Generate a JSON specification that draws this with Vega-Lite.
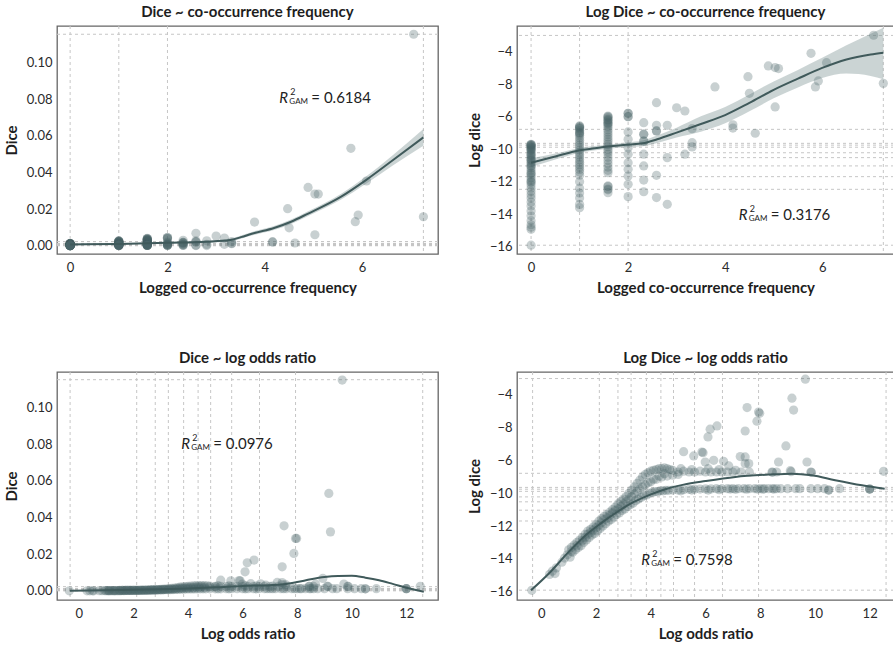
{
"$schema": "https://vega.github.io/schema/vega-lite/v6.json",
"padding": {"left": 3, "top": 3, "right": 0, "bottom": 0},
"columns": 2,
"spacing": {"row": 118, "column": 79},
"bounds": "flush",
"config": {
  "font": "Lato",
  "view": {"stroke": "#666666", "strokeWidth": 1.3},
  "axis": {"domain": false, "ticks": false, "grid": false, "labelFontSize": 13, "labelColor": "#2b2b2b", "titleFontSize": 15, "titleFontWeight": "bold", "titleColor": "#1e1e1e"},
  "axisX": {"labelPadding": 7, "titlePadding": 6},
  "axisY": {"labelPadding": 5, "titlePadding": 7},
  "title": {"fontSize": 15, "fontWeight": "bold", "color": "#1e1e1e", "offset": 6},
  "text": {"font": "Lato"}
},
"datasets": {
  "vgF": [{"v":0},{"v":1},{"v":2},{"v":7.26}],
  "vgL": [{"v":-0.32},{"v":2.12},{"v":2.8},{"v":3.28},{"v":3.84},{"v":4.37},{"v":4.83},{"v":5.6},{"v":6.62},{"v":7.94},{"v":12.6}],
  "hg": [{"d":0.1153,"ld":-3.0},{"d":0.0023,"ld":-8.78},{"d":0.0013,"ld":-9.64},{"d":0.0012,"ld":-9.75},{"d":0.0011,"ld":-9.88},{"d":0.0008,"ld":-10.22},{"d":0.0007,"ld":-10.52},{"d":0.0005,"ld":-11.03},{"d":0.0003,"ld":-11.69},{"d":0.0002,"ld":-12.47},{"d":0.0,"ld":-15.91}],
  "fit1": [{"x":0,"y":0.0007,"lo":0.0003,"hi":0.0011},{"x":1,"y":0.001,"lo":0.0007,"hi":0.0013},{"x":2,"y":0.0016,"lo":0.0012,"hi":0.002},{"x":2.8,"y":0.0022,"lo":0.0016,"hi":0.0028},{"x":3.29,"y":0.0031,"lo":0.0024,"hi":0.0038},{"x":3.51,"y":0.0047,"lo":0.0038,"hi":0.0056},{"x":3.77,"y":0.0068,"lo":0.0058,"hi":0.0078},{"x":4.19,"y":0.0097,"lo":0.0086,"hi":0.0108},{"x":4.54,"y":0.0131,"lo":0.0119,"hi":0.0143},{"x":4.88,"y":0.0174,"lo":0.0161,"hi":0.0187},{"x":5.57,"y":0.0268,"lo":0.0252,"hi":0.0284},{"x":6.08,"y":0.0358,"lo":0.0338,"hi":0.0378},{"x":6.63,"y":0.0466,"lo":0.0438,"hi":0.0494},{"x":7.26,"y":0.0591,"lo":0.0545,"hi":0.0637}],
  "fit2": [{"x":0,"y":-10.83,"lo":-11.1,"hi":-10.56},{"x":0.5,"y":-10.45,"lo":-10.64,"hi":-10.26},{"x":1,"y":-10.07,"lo":-10.22,"hi":-9.92},{"x":1.5,"y":-9.87,"lo":-10.0,"hi":-9.74},{"x":2,"y":-9.72,"lo":-9.87,"hi":-9.57},{"x":2.3,"y":-9.64,"lo":-9.82,"hi":-9.46},{"x":2.6,"y":-9.39,"lo":-9.62,"hi":-9.16},{"x":3,"y":-8.98,"lo":-9.28,"hi":-8.68},{"x":3.5,"y":-8.45,"lo":-8.92,"hi":-7.98},{"x":4,"y":-7.9,"lo":-8.4,"hi":-7.4},{"x":4.5,"y":-7.15,"lo":-7.67,"hi":-6.63},{"x":5,"y":-6.35,"lo":-6.87,"hi":-5.83},{"x":5.5,"y":-5.66,"lo":-6.2,"hi":-5.12},{"x":6,"y":-5.0,"lo":-5.62,"hi":-4.38},{"x":6.5,"y":-4.48,"lo":-5.35,"hi":-3.6},{"x":7,"y":-4.17,"lo":-5.5,"hi":-2.9},{"x":7.26,"y":-4.06,"lo":-5.7,"hi":-2.52}],
  "fit3": [{"x":-0.33,"y":0},{"x":1,"y":0.0003},{"x":2,"y":0.0006},{"x":3,"y":0.0009},{"x":4,"y":0.0013},{"x":5,"y":0.0019},{"x":6,"y":0.0027},{"x":7,"y":0.0031},{"x":7.5,"y":0.0036},{"x":8,"y":0.0048},{"x":8.5,"y":0.0063},{"x":9,"y":0.0075},{"x":9.5,"y":0.0081},{"x":10,"y":0.0082},{"x":10.5,"y":0.0072},{"x":11,"y":0.0058},{"x":11.5,"y":0.0038},{"x":12,"y":0.0017},{"x":12.64,"y":-0.0005}],
  "fit4": [{"x":-0.38,"y":-15.92},{"x":0.33,"y":-14.8},{"x":0.94,"y":-13.68},{"x":1.55,"y":-12.66},{"x":2.16,"y":-11.85},{"x":2.77,"y":-11.14},{"x":3.38,"y":-10.53},{"x":3.98,"y":-10.08},{"x":4.59,"y":-9.72},{"x":5.2,"y":-9.47},{"x":6.0,"y":-9.25},{"x":7.09,"y":-9.0},{"x":8.31,"y":-8.86},{"x":9.16,"y":-8.8},{"x":9.89,"y":-8.9},{"x":10.74,"y":-9.2},{"x":11.72,"y":-9.51},{"x":12.55,"y":-9.72}],
  "ann1": [{"x":4.3,"y":0.0805,"t":"= 0.6184"}],
  "ann2": [{"x":4.28,"y":-14.05,"t":"= 0.3176"}],
  "ann3": [{"x":3.75,"y":0.0802,"t":"= 0.0976"}],
  "ann4": [{"x":3.65,"y":-14.07,"t":"= 0.7598"}],
  "A": [
    {"f":0,"ld":-9.7,"d":0.0012},{"f":0,"ld":-9.72,"d":0.0012},{"f":0,"ld":-9.75,"d":0.0012},{"f":0,"ld":-9.78,"d":0.0011},{"f":0,"ld":-9.8,"d":0.0011},{"f":0,"ld":-9.85,"d":0.0011},{"f":0,"ld":-9.9,"d":0.001},{"f":0,"ld":-9.95,"d":0.001},{"f":0,"ld":-10.0,"d":0.001},{"f":0,"ld":-10.05,"d":0.0009},{"f":0,"ld":-10.1,"d":0.0009},{"f":0,"ld":-10.2,"d":0.0008},{"f":0,"ld":-10.3,"d":0.0008},{"f":0,"ld":-10.35,"d":0.0008},{"f":0,"ld":-10.4,"d":0.0007},{"f":0,"ld":-10.5,"d":0.0007},{"f":0,"ld":-10.6,"d":0.0006},{"f":0,"ld":-10.65,"d":0.0006},{"f":0,"ld":-10.7,"d":0.0006},{"f":0,"ld":-10.8,"d":0.0006},{"f":0,"ld":-10.9,"d":0.0005},{"f":0,"ld":-11.0,"d":0.0005},{"f":0,"ld":-11.05,"d":0.0005},{"f":0,"ld":-11.15,"d":0.0004},{"f":0,"ld":-11.3,"d":0.0004},{"f":0,"ld":-11.45,"d":0.0004},{"f":0,"ld":-11.5,"d":0.0003},{"f":0,"ld":-11.6,"d":0.0003},{"f":0,"ld":-11.75,"d":0.0003},{"f":0,"ld":-11.9,"d":0.0003},{"f":0,"ld":-12.0,"d":0.0002},{"f":0,"ld":-12.05,"d":0.0002},{"f":0,"ld":-12.2,"d":0.0002},{"f":0,"ld":-12.4,"d":0.0002},{"f":0,"ld":-12.6,"d":0.0002},{"f":0,"ld":-12.8,"d":0.0001},{"f":0,"ld":-13.0,"d":0.0001},{"f":0,"ld":-13.25,"d":0.0001},{"f":0,"ld":-13.5,"d":0.0001},{"f":0,"ld":-13.8,"d":0.0001},{"f":0,"ld":-14.1,"d":0.0001},{"f":0,"ld":-14.4,"d":0.0},{"f":0,"ld":-14.65,"d":0.0},{"f":0,"ld":-14.8,"d":0.0},{"f":0,"ld":-14.93,"d":0.0},{"f":0,"ld":-15.91,"d":0.0},
    {"f":1,"ld":-8.57,"d":0.0026},{"f":1,"ld":-8.6,"d":0.0026},{"f":1,"ld":-8.65,"d":0.0025},{"f":1,"ld":-8.7,"d":0.0024},{"f":1,"ld":-8.75,"d":0.0023},{"f":1,"ld":-8.85,"d":0.0022},{"f":1,"ld":-8.95,"d":0.002},{"f":1,"ld":-9.0,"d":0.002},{"f":1,"ld":-9.05,"d":0.0019},{"f":1,"ld":-9.15,"d":0.0018},{"f":1,"ld":-9.3,"d":0.0016},{"f":1,"ld":-9.45,"d":0.0014},{"f":1,"ld":-9.6,"d":0.0013},{"f":1,"ld":-9.75,"d":0.0012},{"f":1,"ld":-9.9,"d":0.001},{"f":1,"ld":-10.05,"d":0.0009},{"f":1,"ld":-10.2,"d":0.0008},{"f":1,"ld":-10.35,"d":0.0008},{"f":1,"ld":-10.5,"d":0.0007},{"f":1,"ld":-10.65,"d":0.0006},{"f":1,"ld":-10.8,"d":0.0006},{"f":1,"ld":-10.95,"d":0.0005},{"f":1,"ld":-11.1,"d":0.0005},{"f":1,"ld":-11.25,"d":0.0004},{"f":1,"ld":-11.4,"d":0.0004},{"f":1,"ld":-11.6,"d":0.0003},{"f":1,"ld":-12.0,"d":0.0002},{"f":1,"ld":-12.4,"d":0.0002},{"f":1,"ld":-12.7,"d":0.0002},{"f":1,"ld":-13.0,"d":0.0001},{"f":1,"ld":-13.4,"d":0.0001},{"f":1,"ld":-13.6,"d":0.0001},
    {"f":1.585,"ld":-7.96,"d":0.004},{"f":1.585,"ld":-8.0,"d":0.0039},{"f":1.585,"ld":-8.05,"d":0.0038},{"f":1.585,"ld":-8.15,"d":0.0035},{"f":1.585,"ld":-8.2,"d":0.0034},{"f":1.585,"ld":-8.25,"d":0.0033},{"f":1.585,"ld":-8.35,"d":0.0031},{"f":1.585,"ld":-8.4,"d":0.003},{"f":1.585,"ld":-8.45,"d":0.0029},{"f":1.585,"ld":-8.55,"d":0.0027},{"f":1.585,"ld":-8.65,"d":0.0025},{"f":1.585,"ld":-8.8,"d":0.0022},{"f":1.585,"ld":-8.95,"d":0.002},{"f":1.585,"ld":-9.1,"d":0.0018},{"f":1.585,"ld":-9.25,"d":0.0016},{"f":1.585,"ld":-9.4,"d":0.0015},{"f":1.585,"ld":-9.55,"d":0.0013},{"f":1.585,"ld":-9.7,"d":0.0012},{"f":1.585,"ld":-9.85,"d":0.0011},{"f":1.585,"ld":-10.0,"d":0.001},{"f":1.585,"ld":-10.15,"d":0.0009},{"f":1.585,"ld":-10.3,"d":0.0008},{"f":1.585,"ld":-10.5,"d":0.0007},{"f":1.585,"ld":-10.7,"d":0.0006},{"f":1.585,"ld":-10.9,"d":0.0005},{"f":1.585,"ld":-11.1,"d":0.0005},{"f":1.585,"ld":-11.3,"d":0.0004},{"f":1.585,"ld":-11.45,"d":0.0004},{"f":1.585,"ld":-12.26,"d":0.0002},{"f":1.585,"ld":-12.3,"d":0.0002},{"f":1.585,"ld":-12.45,"d":0.0002},{"f":1.585,"ld":-12.5,"d":0.0002},{"f":1.585,"ld":-12.68,"d":0.0002},
    {"f":2,"ld":-7.79,"d":0.0045},{"f":2,"ld":-7.79,"d":0.0045},{"f":2,"ld":-8.0,"d":0.0039},{"f":2,"ld":-8.0,"d":0.0039},{"f":2,"ld":-8.94,"d":0.002},{"f":2,"ld":-9.39,"d":0.0015},{"f":2,"ld":-9.91,"d":0.001},{"f":2,"ld":-10.31,"d":0.0008},{"f":2,"ld":-10.83,"d":0.0006},{"f":2,"ld":-11.24,"d":0.0004},{"f":2,"ld":-11.65,"d":0.0003},{"f":2,"ld":-12.16,"d":0.0002},{"f":2,"ld":-12.92,"d":0.0001},
    {"f":2.322,"ld":-8.37,"d":0.003},{"f":2.322,"ld":-9.08,"d":0.0018},{"f":2.322,"ld":-9.08,"d":0.0018},{"f":2.322,"ld":-9.5,"d":0.0014},{"f":2.322,"ld":-9.5,"d":0.0014},{"f":2.322,"ld":-10.31,"d":0.0008},{"f":2.322,"ld":-11.03,"d":0.0005},{"f":2.322,"ld":-11.9,"d":0.0003},{"f":2.322,"ld":-12.62,"d":0.0002},
    {"f":2.585,"ld":-7.14,"d":0.0068},{"f":2.585,"ld":-8.53,"d":0.0027},{"f":2.585,"ld":-8.88,"d":0.0021},{"f":2.585,"ld":-8.88,"d":0.0021},{"f":2.585,"ld":-11.61,"d":0.0003},{"f":2.585,"ld":-12.98,"d":0.0001},
    {"f":2.807,"ld":-8.53,"d":0.0027},{"f":2.807,"ld":-10.52,"d":0.0007},{"f":2.807,"ld":-13.39,"d":0.0001},
    {"f":3,"ld":-7.45,"d":0.0053},
    {"f":3.17,"ld":-7.65,"d":0.0042},{"f":3.17,"ld":-10.31,"d":0.0008},
    {"f":3.32,"ld":-8.74,"d":0.0023},{"f":3.32,"ld":-9.6,"d":0.0013},{"f":3.32,"ld":-9.86,"d":0.0011},
    {"f":3.79,"ld":-6.17,"d":0.0129},{"f":4.16,"ld":-8.5,"d":0.0021},{"f":4.16,"ld":-8.7,"d":0.0021},{"f":4.47,"ld":-5.54,"d":0.0202},{"f":4.5,"ld":-6.56,"d":0.0098},{"f":4.62,"ld":-9.02,"d":0.0015},{"f":4.89,"ld":-4.88,"d":0.0318},{"f":5.03,"ld":-4.98,"d":0.0282},{"f":5.1,"ld":-5.04,"d":0.0282},{"f":5.03,"ld":-7.4,"d":0.006},{"f":5.77,"ld":-4.1,"d":0.0531},{"f":5.86,"ld":-6.17,"d":0.0131},{"f":5.92,"ld":-5.8,"d":0.0167},{"f":6.09,"ld":-4.68,"d":0.0353},{"f":7.06,"ld":-2.99,"d":0.1153},{"f":7.26,"ld":-5.95,"d":0.0158}
  ],
  "B": [
    {"lor":-0.35,"ld":-15.92,"d":0.0},{"lor":0.3,"ld":-14.95,"d":0.0},{"lor":0.4,"ld":-14.75,"d":0.0},{"lor":0.5,"ld":-14.9,"d":0.0},{"lor":0.55,"ld":-14.55,"d":0.0},{"lor":0.75,"ld":-14.2,"d":0.0001},{"lor":0.85,"ld":-13.95,"d":0.0001},{"lor":0.95,"ld":-13.75,"d":0.0001},{"lor":1.0,"ld":-13.45,"d":0.0001},{"lor":1.05,"ld":-13.9,"d":0.0001},{"lor":1.1,"ld":-13.3,"d":0.0001},{"lor":1.1,"ld":-13.55,"d":0.0001},{"lor":1.15,"ld":-13.6,"d":0.0001},{"lor":1.2,"ld":-13.15,"d":0.0001},{"lor":1.25,"ld":-13.45,"d":0.0001},{"lor":1.3,"ld":-13.0,"d":0.0001},{"lor":1.3,"ld":-13.2,"d":0.0001},{"lor":1.35,"ld":-13.3,"d":0.0001},{"lor":1.4,"ld":-12.85,"d":0.0001},{"lor":1.45,"ld":-13.2,"d":0.0001},{"lor":1.5,"ld":-12.7,"d":0.0002},{"lor":1.5,"ld":-12.9,"d":0.0001},{"lor":1.55,"ld":-13.0,"d":0.0001},{"lor":1.6,"ld":-12.5,"d":0.0002},{"lor":1.6,"ld":-12.7,"d":0.0002},{"lor":1.65,"ld":-12.85,"d":0.0001},{"lor":1.7,"ld":-12.3,"d":0.0002},{"lor":1.7,"ld":-12.5,"d":0.0002},{"lor":1.75,"ld":-12.7,"d":0.0002},{"lor":1.8,"ld":-12.2,"d":0.0002},{"lor":1.8,"ld":-12.4,"d":0.0002},{"lor":1.85,"ld":-12.55,"d":0.0002},{"lor":1.9,"ld":-12.05,"d":0.0002},{"lor":1.9,"ld":-12.25,"d":0.0002},{"lor":1.95,"ld":-12.45,"d":0.0002},{"lor":2.0,"ld":-11.9,"d":0.0003},{"lor":2.0,"ld":-12.1,"d":0.0002},{"lor":2.05,"ld":-12.3,"d":0.0002},{"lor":2.1,"ld":-11.7,"d":0.0003},{"lor":2.1,"ld":-11.95,"d":0.0003},{"lor":2.15,"ld":-12.15,"d":0.0002},{"lor":2.2,"ld":-11.55,"d":0.0003},{"lor":2.2,"ld":-11.8,"d":0.0003},{"lor":2.25,"ld":-12.0,"d":0.0002},{"lor":2.3,"ld":-11.4,"d":0.0004},{"lor":2.3,"ld":-11.6,"d":0.0003},{"lor":2.35,"ld":-11.85,"d":0.0003},{"lor":2.4,"ld":-11.3,"d":0.0004},{"lor":2.4,"ld":-11.5,"d":0.0003},{"lor":2.45,"ld":-11.7,"d":0.0003},{"lor":2.5,"ld":-11.15,"d":0.0004},{"lor":2.5,"ld":-11.35,"d":0.0004},{"lor":2.55,"ld":-11.6,"d":0.0003},{"lor":2.6,"ld":-11.0,"d":0.0005},{"lor":2.6,"ld":-11.2,"d":0.0004},{"lor":2.65,"ld":-11.45,"d":0.0004},{"lor":2.7,"ld":-10.85,"d":0.0005},{"lor":2.7,"ld":-11.05,"d":0.0005},{"lor":2.75,"ld":-11.3,"d":0.0004},{"lor":2.8,"ld":-10.65,"d":0.0006},{"lor":2.8,"ld":-10.95,"d":0.0005},{"lor":2.85,"ld":-11.2,"d":0.0004},{"lor":2.9,"ld":-10.5,"d":0.0007},{"lor":2.9,"ld":-10.8,"d":0.0006},{"lor":2.95,"ld":-11.05,"d":0.0005},{"lor":3.0,"ld":-10.35,"d":0.0008},{"lor":3.0,"ld":-10.65,"d":0.0006},{"lor":3.05,"ld":-10.95,"d":0.0005},{"lor":3.1,"ld":-10.2,"d":0.0009},{"lor":3.1,"ld":-10.5,"d":0.0007},{"lor":3.15,"ld":-10.8,"d":0.0006},{"lor":3.2,"ld":-10.0,"d":0.001},{"lor":3.2,"ld":-10.35,"d":0.0008},{"lor":3.25,"ld":-10.7,"d":0.0006},{"lor":3.3,"ld":-9.8,"d":0.0011},{"lor":3.3,"ld":-10.2,"d":0.0009},{"lor":3.35,"ld":-10.6,"d":0.0006},{"lor":3.4,"ld":-9.6,"d":0.0013},{"lor":3.4,"ld":-10.05,"d":0.0009},{"lor":3.45,"ld":-10.45,"d":0.0007},{"lor":3.5,"ld":-9.4,"d":0.0015},{"lor":3.5,"ld":-9.9,"d":0.001},{"lor":3.55,"ld":-10.35,"d":0.0008},{"lor":3.6,"ld":-9.2,"d":0.0017},{"lor":3.6,"ld":-9.75,"d":0.0012},{"lor":3.65,"ld":-10.25,"d":0.0008},{"lor":3.7,"ld":-9.0,"d":0.002},{"lor":3.7,"ld":-9.6,"d":0.0013},{"lor":3.75,"ld":-10.15,"d":0.0009},{"lor":3.8,"ld":-8.85,"d":0.0022},{"lor":3.8,"ld":-9.5,"d":0.0014},{"lor":3.85,"ld":-10.1,"d":0.0009},{"lor":3.9,"ld":-8.75,"d":0.0023},{"lor":3.9,"ld":-9.35,"d":0.0015},{"lor":3.95,"ld":-10.0,"d":0.001},{"lor":4.0,"ld":-8.65,"d":0.0025},{"lor":4.0,"ld":-9.3,"d":0.0016},{"lor":4.05,"ld":-9.95,"d":0.001},{"lor":4.1,"ld":-8.6,"d":0.0026},{"lor":4.1,"ld":-9.15,"d":0.0018},{"lor":4.15,"ld":-9.9,"d":0.001},{"lor":4.2,"ld":-8.55,"d":0.0027},{"lor":4.2,"ld":-9.15,"d":0.0018},{"lor":4.25,"ld":-9.9,"d":0.001},{"lor":4.3,"ld":-8.5,"d":0.0028},{"lor":4.3,"ld":-8.95,"d":0.002},{"lor":4.35,"ld":-9.85,"d":0.0011},{"lor":4.4,"ld":-8.5,"d":0.0028},{"lor":4.4,"ld":-9.0,"d":0.002},{"lor":4.45,"ld":-9.85,"d":0.0011},{"lor":4.5,"ld":-8.45,"d":0.0029},{"lor":4.5,"ld":-8.8,"d":0.0022},{"lor":4.55,"ld":-9.82,"d":0.0011},{"lor":4.6,"ld":-8.5,"d":0.0028},{"lor":4.6,"ld":-8.95,"d":0.002},{"lor":4.65,"ld":-9.82,"d":0.0011},{"lor":4.7,"ld":-8.55,"d":0.0027},{"lor":4.8,"ld":-8.9,"d":0.0021},{"lor":5.0,"ld":-8.85,"d":0.0022},
    {"lor":4.8,"ld":-8.6,"d":0.0026},{"lor":5.0,"ld":-8.7,"d":0.0024},{"lor":5.1,"ld":-8.5,"d":0.0028},{"lor":5.2,"ld":-8.65,"d":0.0025},{"lor":5.4,"ld":-8.7,"d":0.0024},{"lor":5.5,"ld":-8.55,"d":0.0027},{"lor":5.6,"ld":-8.7,"d":0.0024},{"lor":5.8,"ld":-8.65,"d":0.0025},{"lor":6.0,"ld":-8.7,"d":0.0024},{"lor":6.1,"ld":-8.5,"d":0.0028},{"lor":6.2,"ld":-8.7,"d":0.0024},{"lor":6.4,"ld":-8.7,"d":0.0024},{"lor":6.5,"ld":-8.55,"d":0.0027},{"lor":6.6,"ld":-8.7,"d":0.0024},{"lor":6.8,"ld":-8.7,"d":0.0024},{"lor":7.0,"ld":-8.7,"d":0.0024},{"lor":7.1,"ld":-8.6,"d":0.0026},{"lor":7.3,"ld":-8.7,"d":0.0024},{"lor":7.6,"ld":-8.7,"d":0.0024},{"lor":8.43,"ld":-8.7,"d":0.0024},{"lor":8.45,"ld":-8.72,"d":0.0024},{"lor":8.6,"ld":-8.7,"d":0.0024},{"lor":9.1,"ld":-8.62,"d":0.0025},{"lor":9.13,"ld":-8.68,"d":0.0024},{"lor":9.85,"ld":-8.7,"d":0.0024},{"lor":9.87,"ld":-8.72,"d":0.0024},
    {"lor":4.8,"ld":-9.8,"d":0.0011},{"lor":5.0,"ld":-9.8,"d":0.0011},{"lor":5.1,"ld":-9.85,"d":0.0011},{"lor":5.2,"ld":-9.78,"d":0.0011},{"lor":5.4,"ld":-9.76,"d":0.0012},{"lor":5.5,"ld":-9.8,"d":0.0011},{"lor":5.6,"ld":-9.75,"d":0.0012},{"lor":5.8,"ld":-9.74,"d":0.0012},{"lor":6.0,"ld":-9.73,"d":0.0012},{"lor":6.1,"ld":-9.8,"d":0.0011},{"lor":6.2,"ld":-9.73,"d":0.0012},{"lor":6.4,"ld":-9.72,"d":0.0012},{"lor":6.5,"ld":-9.78,"d":0.0011},{"lor":6.6,"ld":-9.72,"d":0.0012},{"lor":6.8,"ld":-9.72,"d":0.0012},{"lor":6.9,"ld":-9.74,"d":0.0012},{"lor":7.0,"ld":-9.72,"d":0.0012},{"lor":7.1,"ld":-9.76,"d":0.0012},{"lor":7.2,"ld":-9.72,"d":0.0012},{"lor":7.4,"ld":-9.72,"d":0.0012},{"lor":7.5,"ld":-9.75,"d":0.0012},{"lor":7.6,"ld":-9.72,"d":0.0012},{"lor":7.8,"ld":-9.72,"d":0.0012},{"lor":7.9,"ld":-9.74,"d":0.0012},{"lor":8.0,"ld":-9.72,"d":0.0012},{"lor":8.1,"ld":-9.75,"d":0.0012},{"lor":8.15,"ld":-9.72,"d":0.0012},{"lor":8.3,"ld":-9.72,"d":0.0012},{"lor":8.45,"ld":-9.72,"d":0.0012},{"lor":8.5,"ld":-9.74,"d":0.0012},{"lor":8.6,"ld":-9.72,"d":0.0012},{"lor":8.75,"ld":-9.72,"d":0.0012},{"lor":9.0,"ld":-9.72,"d":0.0012},{"lor":9.3,"ld":-9.72,"d":0.0012},{"lor":9.45,"ld":-9.72,"d":0.0012},{"lor":9.85,"ld":-9.72,"d":0.0012},{"lor":10.1,"ld":-9.72,"d":0.0012},{"lor":10.35,"ld":-9.72,"d":0.0012},{"lor":10.5,"ld":-9.8,"d":0.0011},{"lor":10.5,"ld":-9.8,"d":0.0011},{"lor":10.9,"ld":-9.72,"d":0.0012},{"lor":12.0,"ld":-9.74,"d":0.0012},{"lor":12.0,"ld":-9.74,"d":0.0012},{"lor":12.0,"ld":-9.74,"d":0.0012},
    {"lor":5.87,"ld":-7.48,"d":0.0056},{"lor":5.99,"ld":-8.09,"d":0.0037},{"lor":6.3,"ld":-7.99,"d":0.0039},{"lor":6.66,"ld":-8.05,"d":0.0038},{"lor":6.85,"ld":-8.33,"d":0.0031},{"lor":7.45,"ld":-7.78,"d":0.0045},{"lor":7.45,"ld":-8.19,"d":0.0034},{"lor":7.58,"ld":-8.19,"d":0.0034},{"lor":8.67,"ld":-8.09,"d":0.0037},{"lor":9.71,"ld":-8.09,"d":0.0037},{"lor":12.51,"ld":-8.66,"d":0.0025},{"lor":7.27,"ld":-7.76,"d":0.0046},
    {"lor":9.65,"ld":-3.04,"d":0.1151},{"lor":9.16,"ld":-4.2,"d":0.0532},{"lor":9.22,"ld":-4.92,"d":0.0322},{"lor":7.52,"ld":-4.77,"d":0.0355},{"lor":7.94,"ld":-5.04,"d":0.0286},{"lor":7.98,"ld":-5.12,"d":0.0286},{"lor":7.88,"ld":-5.6,"d":0.0204},{"lor":7.45,"ld":-6.2,"d":0.0131},{"lor":6.09,"ld":-6.56,"d":0.0104},{"lor":6.17,"ld":-6.09,"d":0.0153},{"lor":6.42,"ld":-5.89,"d":0.0168},{"lor":5.2,"ld":-7.46,"d":0.0058},{"lor":5.57,"ld":-7.72,"d":0.0055},{"lor":5.91,"ld":-7.52,"d":0.0055},{"lor":8.94,"ld":-7.11,"d":0.0068}
  ]
},
"concat": [
  {
    "title": "Dice ~ co-occurrence frequency",
    "width": 381, "height": 228,
    "layer": [
      {"data": {"name": "vgF"}, "mark": {"type": "rule", "color": "#c6c6c6", "strokeDash": [3, 3], "strokeWidth": 1}, "encoding": {"x": {"field": "v", "type": "quantitative", "scale": {"domain": [-0.27, 7.56], "nice": false, "zero": false}, "title": "Logged co-occurrence frequency", "axis": {"values": [0, 2, 4, 6]}}}},
      {"data": {"name": "hg"}, "mark": {"type": "rule", "color": "#c6c6c6", "strokeDash": [3, 3], "strokeWidth": 1}, "encoding": {"y": {"field": "d", "type": "quantitative", "scale": {"domain": [-0.0045, 0.1198], "nice": false, "zero": false}, "title": "Dice", "axis": {"values": [0, 0.02, 0.04, 0.06, 0.08, 0.1], "format": ".2f"}}}},
      {"data": {"name": "fit1"}, "mark": {"type": "area", "color": "#7d9494", "opacity": 0.4, "interpolate": "monotone", "clip": true}, "encoding": {"x": {"field": "x", "type": "quantitative", "scale": {"domain": [-0.27, 7.56], "nice": false, "zero": false}, "title": "Logged co-occurrence frequency", "axis": {"values": [0, 2, 4, 6]}}, "y": {"field": "lo", "type": "quantitative", "scale": {"domain": [-0.0045, 0.1198], "nice": false, "zero": false}, "title": "Dice", "axis": {"values": [0, 0.02, 0.04, 0.06, 0.08, 0.1], "format": ".2f"}}, "y2": {"field": "hi"}}},
      {"data": {"name": "A"}, "mark": {"type": "circle", "color": "#4a6566", "opacity": 0.3, "size": 85}, "encoding": {"x": {"field": "f", "type": "quantitative", "scale": {"domain": [-0.27, 7.56], "nice": false, "zero": false}, "title": "Logged co-occurrence frequency", "axis": {"values": [0, 2, 4, 6]}}, "y": {"field": "d", "type": "quantitative", "scale": {"domain": [-0.0045, 0.1198], "nice": false, "zero": false}, "title": "Dice", "axis": {"values": [0, 0.02, 0.04, 0.06, 0.08, 0.1], "format": ".2f"}}}},
      {"data": {"name": "fit1"}, "mark": {"type": "line", "color": "#405a5b", "strokeWidth": 2, "interpolate": "monotone", "clip": true}, "encoding": {"x": {"field": "x", "type": "quantitative", "scale": {"domain": [-0.27, 7.56], "nice": false, "zero": false}, "title": "Logged co-occurrence frequency", "axis": {"values": [0, 2, 4, 6]}}, "y": {"field": "y", "type": "quantitative", "scale": {"domain": [-0.0045, 0.1198], "nice": false, "zero": false}, "title": "Dice", "axis": {"values": [0, 0.02, 0.04, 0.06, 0.08, 0.1], "format": ".2f"}}}},
      {"data": {"name": "ann1"},
       "encoding": {"x": {"field": "x", "type": "quantitative", "scale": {"domain": [-0.27, 7.56], "nice": false, "zero": false}, "title": "Logged co-occurrence frequency", "axis": {"values": [0, 2, 4, 6]}}, "y": {"field": "y", "type": "quantitative", "scale": {"domain": [-0.0045, 0.1198], "nice": false, "zero": false}, "title": "Dice", "axis": {"values": [0, 0.02, 0.04, 0.06, 0.08, 0.1], "format": ".2f"}}},
       "layer": [
         {"mark": {"type": "text", "text": "R", "fontStyle": "italic", "fontSize": 15, "align": "left", "baseline": "middle", "color": "#222"}},
         {"mark": {"type": "text", "text": "2", "fontSize": 9, "dx": 11, "dy": -6, "align": "left", "baseline": "middle", "color": "#222"}},
         {"mark": {"type": "text", "text": "GAM", "fontSize": 8, "dx": 10, "dy": 4, "align": "left", "baseline": "middle", "color": "#222"}},
         {"mark": {"type": "text", "fontSize": 15, "dx": 32, "align": "left", "baseline": "middle", "color": "#222"}, "encoding": {"text": {"field": "t"}}}
       ]}
    ]
  },
  {
    "title": "Log Dice ~ co-occurrence frequency",
    "width": 377, "height": 228,
    "layer": [
      {"data": {"name": "vgF"}, "mark": {"type": "rule", "color": "#c6c6c6", "strokeDash": [3, 3], "strokeWidth": 1}, "encoding": {"x": {"field": "v", "type": "quantitative", "scale": {"domain": [-0.29, 7.48], "nice": false, "zero": false}, "title": "Logged co-occurrence frequency", "axis": {"values": [0, 2, 4, 6]}}}},
      {"data": {"name": "hg"}, "mark": {"type": "rule", "color": "#c6c6c6", "strokeDash": [3, 3], "strokeWidth": 1}, "encoding": {"y": {"field": "ld", "type": "quantitative", "scale": {"domain": [-16.45, -2.42], "nice": false, "zero": false}, "title": "Log dice", "axis": {"values": [-16, -14, -12, -10, -8, -6, -4], "labelExpr": "datum.value == -6 ? '\u22128' : datum.value == -8 ? '\u22126' : datum.label"}}}},
      {"data": {"name": "fit2"}, "mark": {"type": "area", "color": "#7d9494", "opacity": 0.4, "interpolate": "monotone", "clip": true}, "encoding": {"x": {"field": "x", "type": "quantitative", "scale": {"domain": [-0.29, 7.48], "nice": false, "zero": false}, "title": "Logged co-occurrence frequency", "axis": {"values": [0, 2, 4, 6]}}, "y": {"field": "lo", "type": "quantitative", "scale": {"domain": [-16.45, -2.42], "nice": false, "zero": false}, "title": "Log dice", "axis": {"values": [-16, -14, -12, -10, -8, -6, -4], "labelExpr": "datum.value == -6 ? '\u22128' : datum.value == -8 ? '\u22126' : datum.label"}}, "y2": {"field": "hi"}}},
      {"data": {"name": "A"}, "mark": {"type": "circle", "color": "#4a6566", "opacity": 0.3, "size": 85}, "encoding": {"x": {"field": "f", "type": "quantitative", "scale": {"domain": [-0.29, 7.48], "nice": false, "zero": false}, "title": "Logged co-occurrence frequency", "axis": {"values": [0, 2, 4, 6]}}, "y": {"field": "ld", "type": "quantitative", "scale": {"domain": [-16.45, -2.42], "nice": false, "zero": false}, "title": "Log dice", "axis": {"values": [-16, -14, -12, -10, -8, -6, -4], "labelExpr": "datum.value == -6 ? '\u22128' : datum.value == -8 ? '\u22126' : datum.label"}}}},
      {"data": {"name": "fit2"}, "mark": {"type": "line", "color": "#405a5b", "strokeWidth": 2, "interpolate": "monotone", "clip": true}, "encoding": {"x": {"field": "x", "type": "quantitative", "scale": {"domain": [-0.29, 7.48], "nice": false, "zero": false}, "title": "Logged co-occurrence frequency", "axis": {"values": [0, 2, 4, 6]}}, "y": {"field": "y", "type": "quantitative", "scale": {"domain": [-16.45, -2.42], "nice": false, "zero": false}, "title": "Log dice", "axis": {"values": [-16, -14, -12, -10, -8, -6, -4], "labelExpr": "datum.value == -6 ? '\u22128' : datum.value == -8 ? '\u22126' : datum.label"}}}},
      {"data": {"name": "ann2"},
       "encoding": {"x": {"field": "x", "type": "quantitative", "scale": {"domain": [-0.29, 7.48], "nice": false, "zero": false}, "title": "Logged co-occurrence frequency", "axis": {"values": [0, 2, 4, 6]}}, "y": {"field": "y", "type": "quantitative", "scale": {"domain": [-16.45, -2.42], "nice": false, "zero": false}, "title": "Log dice", "axis": {"values": [-16, -14, -12, -10, -8, -6, -4], "labelExpr": "datum.value == -6 ? '\u22128' : datum.value == -8 ? '\u22126' : datum.label"}}},
       "layer": [
         {"mark": {"type": "text", "text": "R", "fontStyle": "italic", "fontSize": 15, "align": "left", "baseline": "middle", "color": "#222"}},
         {"mark": {"type": "text", "text": "2", "fontSize": 9, "dx": 11, "dy": -6, "align": "left", "baseline": "middle", "color": "#222"}},
         {"mark": {"type": "text", "text": "GAM", "fontSize": 8, "dx": 10, "dy": 4, "align": "left", "baseline": "middle", "color": "#222"}},
         {"mark": {"type": "text", "fontSize": 15, "dx": 32, "align": "left", "baseline": "middle", "color": "#222"}, "encoding": {"text": {"field": "t"}}}
       ]}
    ]
  },
  {
    "title": "Dice ~ log odds ratio",
    "width": 381, "height": 228,
    "layer": [
      {"data": {"name": "vgL"}, "mark": {"type": "rule", "color": "#c6c6c6", "strokeDash": [3, 3], "strokeWidth": 1}, "encoding": {"x": {"field": "v", "type": "quantitative", "scale": {"domain": [-0.8, 13.16], "nice": false, "zero": false}, "title": "Log odds ratio", "axis": {"values": [0, 2, 4, 6, 8, 10, 12]}}}},
      {"data": {"name": "hg"}, "mark": {"type": "rule", "color": "#c6c6c6", "strokeDash": [3, 3], "strokeWidth": 1}, "encoding": {"y": {"field": "d", "type": "quantitative", "scale": {"domain": [-0.005, 0.1195], "nice": false, "zero": false}, "title": "Dice", "axis": {"values": [0, 0.02, 0.04, 0.06, 0.08, 0.1], "format": ".2f"}}}},
      {"data": {"name": "B"}, "mark": {"type": "circle", "color": "#4a6566", "opacity": 0.3, "size": 85}, "encoding": {"x": {"field": "lor", "type": "quantitative", "scale": {"domain": [-0.8, 13.16], "nice": false, "zero": false}, "title": "Log odds ratio", "axis": {"values": [0, 2, 4, 6, 8, 10, 12]}}, "y": {"field": "d", "type": "quantitative", "scale": {"domain": [-0.005, 0.1195], "nice": false, "zero": false}, "title": "Dice", "axis": {"values": [0, 0.02, 0.04, 0.06, 0.08, 0.1], "format": ".2f"}}}},
      {"data": {"name": "fit3"}, "mark": {"type": "line", "color": "#405a5b", "strokeWidth": 2, "interpolate": "monotone", "clip": true}, "encoding": {"x": {"field": "x", "type": "quantitative", "scale": {"domain": [-0.8, 13.16], "nice": false, "zero": false}, "title": "Log odds ratio", "axis": {"values": [0, 2, 4, 6, 8, 10, 12]}}, "y": {"field": "y", "type": "quantitative", "scale": {"domain": [-0.005, 0.1195], "nice": false, "zero": false}, "title": "Dice", "axis": {"values": [0, 0.02, 0.04, 0.06, 0.08, 0.1], "format": ".2f"}}}},
      {"data": {"name": "ann3"},
       "encoding": {"x": {"field": "x", "type": "quantitative", "scale": {"domain": [-0.8, 13.16], "nice": false, "zero": false}, "title": "Log odds ratio", "axis": {"values": [0, 2, 4, 6, 8, 10, 12]}}, "y": {"field": "y", "type": "quantitative", "scale": {"domain": [-0.005, 0.1195], "nice": false, "zero": false}, "title": "Dice", "axis": {"values": [0, 0.02, 0.04, 0.06, 0.08, 0.1], "format": ".2f"}}},
       "layer": [
         {"mark": {"type": "text", "text": "R", "fontStyle": "italic", "fontSize": 15, "align": "left", "baseline": "middle", "color": "#222"}},
         {"mark": {"type": "text", "text": "2", "fontSize": 9, "dx": 11, "dy": -6, "align": "left", "baseline": "middle", "color": "#222"}},
         {"mark": {"type": "text", "text": "GAM", "fontSize": 8, "dx": 10, "dy": 4, "align": "left", "baseline": "middle", "color": "#222"}},
         {"mark": {"type": "text", "fontSize": 15, "dx": 32, "align": "left", "baseline": "middle", "color": "#222"}, "encoding": {"text": {"field": "t"}}}
       ]}
    ]
  },
  {
    "title": "Log Dice ~ log odds ratio",
    "width": 377, "height": 228,
    "layer": [
      {"data": {"name": "vgL"}, "mark": {"type": "rule", "color": "#c6c6c6", "strokeDash": [3, 3], "strokeWidth": 1}, "encoding": {"x": {"field": "v", "type": "quantitative", "scale": {"domain": [-0.89, 12.89], "nice": false, "zero": false}, "title": "Log odds ratio", "axis": {"values": [0, 2, 4, 6, 8, 10, 12]}}}},
      {"data": {"name": "hg"}, "mark": {"type": "rule", "color": "#c6c6c6", "strokeDash": [3, 3], "strokeWidth": 1}, "encoding": {"y": {"field": "ld", "type": "quantitative", "scale": {"domain": [-16.51, -2.6], "nice": false, "zero": false}, "title": "Log dice", "axis": {"values": [-16, -14, -12, -10, -8, -6, -4], "labelExpr": "datum.value == -6 ? '\u22128' : datum.value == -8 ? '\u22126' : datum.label"}}}},
      {"data": {"name": "B"}, "mark": {"type": "circle", "color": "#4a6566", "opacity": 0.3, "size": 85}, "encoding": {"x": {"field": "lor", "type": "quantitative", "scale": {"domain": [-0.89, 12.89], "nice": false, "zero": false}, "title": "Log odds ratio", "axis": {"values": [0, 2, 4, 6, 8, 10, 12]}}, "y": {"field": "ld", "type": "quantitative", "scale": {"domain": [-16.51, -2.6], "nice": false, "zero": false}, "title": "Log dice", "axis": {"values": [-16, -14, -12, -10, -8, -6, -4], "labelExpr": "datum.value == -6 ? '\u22128' : datum.value == -8 ? '\u22126' : datum.label"}}}},
      {"data": {"name": "fit4"}, "mark": {"type": "line", "color": "#405a5b", "strokeWidth": 2, "interpolate": "monotone", "clip": true}, "encoding": {"x": {"field": "x", "type": "quantitative", "scale": {"domain": [-0.89, 12.89], "nice": false, "zero": false}, "title": "Log odds ratio", "axis": {"values": [0, 2, 4, 6, 8, 10, 12]}}, "y": {"field": "y", "type": "quantitative", "scale": {"domain": [-16.51, -2.6], "nice": false, "zero": false}, "title": "Log dice", "axis": {"values": [-16, -14, -12, -10, -8, -6, -4], "labelExpr": "datum.value == -6 ? '\u22128' : datum.value == -8 ? '\u22126' : datum.label"}}}},
      {"data": {"name": "ann4"},
       "encoding": {"x": {"field": "x", "type": "quantitative", "scale": {"domain": [-0.89, 12.89], "nice": false, "zero": false}, "title": "Log odds ratio", "axis": {"values": [0, 2, 4, 6, 8, 10, 12]}}, "y": {"field": "y", "type": "quantitative", "scale": {"domain": [-16.51, -2.6], "nice": false, "zero": false}, "title": "Log dice", "axis": {"values": [-16, -14, -12, -10, -8, -6, -4], "labelExpr": "datum.value == -6 ? '\u22128' : datum.value == -8 ? '\u22126' : datum.label"}}},
       "layer": [
         {"mark": {"type": "text", "text": "R", "fontStyle": "italic", "fontSize": 15, "align": "left", "baseline": "middle", "color": "#222"}},
         {"mark": {"type": "text", "text": "2", "fontSize": 9, "dx": 11, "dy": -6, "align": "left", "baseline": "middle", "color": "#222"}},
         {"mark": {"type": "text", "text": "GAM", "fontSize": 8, "dx": 10, "dy": 4, "align": "left", "baseline": "middle", "color": "#222"}},
         {"mark": {"type": "text", "fontSize": 15, "dx": 32, "align": "left", "baseline": "middle", "color": "#222"}, "encoding": {"text": {"field": "t"}}}
       ]}
    ]
  }
]
}
